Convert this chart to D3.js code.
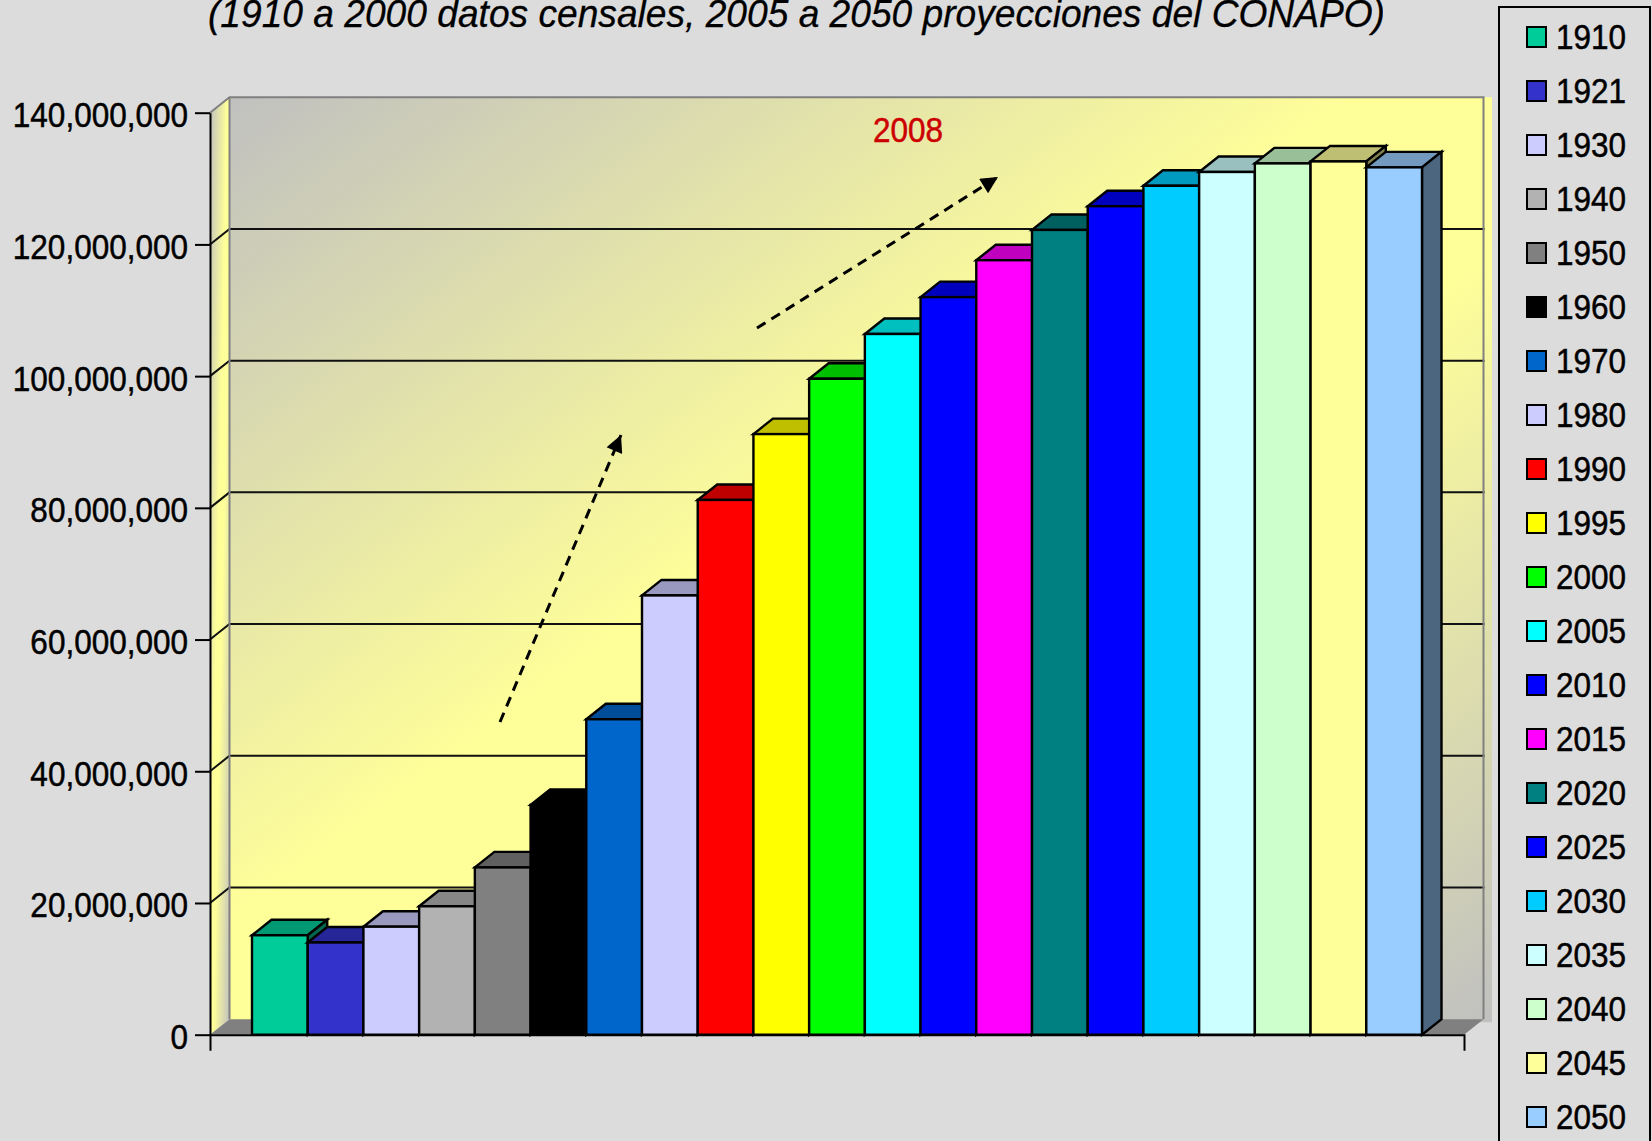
<!DOCTYPE html>
<head>
  <meta charset="utf-8">
  <style>
    body { margin: 0; background: #dcdcdc; }
    svg { display: block; }
    text { font-family: 'Liberation Sans', Arial, sans-serif; fill: black; stroke: black; stroke-width: 0.5; }
    .axis path, .axis line { stroke: black; stroke-width: 2; fill: none; }
    .axis text { font-size: 35px; fill: black; stroke: black; stroke-width: 0.5; }
    .edge { stroke: black; stroke-width: 2.4; stroke-linejoin: miter; }
  </style>
</head>

<body>
  <script src="https://cdn.jsdelivr.net/npm/d3@7"></script>
  <script>
    // chart data
    const years = ["1910", "1921", "1930", "1940", "1950", "1960", "1970", "1980", "1990", "1995", "2000",
      "2005", "2010", "2015", "2020", "2025", "2030", "2035", "2040", "2045", "2050"];
    const population = [15100000, 14000000, 16400000, 19500000, 25400000, 34900000, 47900000, 66700000,
      81200000, 91200000, 99600000, 106400000, 112000000, 117600000, 122200000, 125800000,
      128900000, 131000000, 132300000, 132600000, 131700000];
    const barColors = ["#00cc99", "#3333cc", "#ccccff", "#b2b2b2", "#808080", "#000000", "#0066cc", "#ccccff",
      "#ff0000", "#ffff00", "#00ff00", "#00ffff", "#0000ff", "#ff00ff", "#008080", "#0000ff",
      "#00ccff", "#ccffff", "#ccffcc", "#ffff99", "#99ccff"];
    const yTicks = [0, 20000000, 40000000, 60000000, 80000000, 100000000, 120000000, 140000000];
    const titleText = "(1910 a 2000 datos censales, 2005 a 2050 proyecciones del CONAPO)";
    const noteText = "2008";

    const width = 1652;
    const height = 1141;
    // 3d offset of the walls and the bar tops
    const depthX = 19.5;
    const depthY = 15.5;
    const narrow = 0.9; // the text in the picture is squeezed sideways

    const svg = d3.select("body").append("svg")
      .attr("width", width)
      .attr("height", height);

    const x = d3.scaleBand().domain(years).range([252, 1422]);
    const y = d3.scaleLinear().domain([0, 140000000]).range([1034.7, 112.7]);
    const floorRight = 1464;
    const axisLeftX = 210;

    const data = years.map((d, i) => ({year: d, value: population[i], color: barColors[i]}));

    const poly = pts => pts.map(p => p.join(",")).join(" ");
    const shade = (c, k) => { const r = d3.rgb(c); return d3.rgb(r.r * k, r.g * k, r.b * k); };
    function squeeze(sel) {
      sel.each(function() {
        d3.select(this)
          .attr("textLength", this.getComputedTextLength() * narrow)
          .attr("lengthAdjust", "spacingAndGlyphs");
      });
    }

    // wall gradient, grey in two corners, yellow across the middle
    const defs = svg.append("defs");
    const grad = defs.append("linearGradient")
      .attr("id", "wall")
      .attr("x1", 0).attr("y1", 0).attr("x2", 1).attr("y2", 1);
    grad.append("stop").attr("offset", "0%").attr("stop-color", "#c0c0c0");
    grad.append("stop").attr("offset", "45%").attr("stop-color", "#ffff99");
    grad.append("stop").attr("offset", "58%").attr("stop-color", "#ffff99");
    grad.append("stop").attr("offset", "100%").attr("stop-color", "#c0c0c0");

    defs.append("marker")
      .attr("id", "arrow")
      .attr("viewBox", "0 0 10 10")
      .attr("refX", 10).attr("refY", 5)
      .attr("markerUnits", "userSpaceOnUse")
      .attr("markerWidth", 20).attr("markerHeight", 17)
      .attr("orient", "auto")
      .append("path").attr("d", "M0,0L10,5L0,10Z").attr("fill", "black");

    // the closing bracket of the title is cut in the picture
    defs.append("clipPath").attr("id", "titleClip")
      .append("rect").attr("x", 0).attr("y", 0).attr("width", 1383).attr("height", 60);

    const yTop = y(140000000);
    const yBase = y(0);

    //-----------------------------WALLS-----------------------------//
    const walls = svg.append("g").attr("id", "walls");
    walls.append("rect")
      .attr("x", axisLeftX + depthX)
      .attr("y", yTop - depthY)
      .attr("width", 1492 - axisLeftX - depthX)
      .attr("height", yBase - yTop + 3)
      .attr("fill", "url(#wall)");
    walls.append("polygon")
      .attr("points", poly([[axisLeftX, yTop], [axisLeftX + depthX, yTop - depthY],
        [axisLeftX + depthX, yBase - depthY], [axisLeftX, yBase]]))
      .attr("fill", "url(#wall)");
    walls.append("polygon")
      .attr("points", poly([[axisLeftX, yBase], [axisLeftX + depthX, yBase - depthY],
        [floorRight + depthX, yBase - depthY], [floorRight, yBase]]))
      .attr("fill", "#808080");

    // grid lines, slanted part on the side wall and flat part on the back wall
    walls.selectAll(".grid").data(yTicks.slice(1, -1)).enter().append("polyline")
      .attr("class", "grid")
      .attr("points", d => poly([[axisLeftX, y(d)], [axisLeftX + depthX, y(d) - depthY],
        [floorRight + depthX + 1, y(d) - depthY]]))
      .attr("fill", "none")
      .attr("stroke", "#111")
      .attr("stroke-width", 2);

    walls.append("polyline")
      .attr("points", poly([[axisLeftX, yTop], [axisLeftX + depthX, yTop - depthY],
        [floorRight + depthX, yTop - depthY], [floorRight + depthX, yBase - depthY]]))
      .attr("fill", "none")
      .attr("stroke", "#808080")
      .attr("stroke-width", 2);
    walls.append("line")
      .attr("x1", axisLeftX + depthX).attr("x2", axisLeftX + depthX)
      .attr("y1", yTop - depthY).attr("y2", yBase - depthY)
      .attr("stroke", "#808080").attr("stroke-width", 2);

    //-----------------------------BARS-----------------------------//
    const bw = x.bandwidth();
    // painted left to right, each bar's top lands over the side of the bar before it
    const bars = svg.append("g").attr("id", "bars")
      .selectAll(".bar").data(data).enter().append("g").attr("class", "bar");
    bars.append("polygon")
      .attr("class", "edge")
      .attr("points", d => poly([[x(d.year), y(d.value)], [x(d.year) + depthX, y(d.value) - depthY],
        [x(d.year) + bw + depthX, y(d.value) - depthY], [x(d.year) + bw, y(d.value)]]))
      .attr("fill", d => shade(d.color, 0.75));
    bars.append("polygon")
      .attr("class", "edge")
      .attr("points", d => poly([[x(d.year) + bw, y(d.value)], [x(d.year) + bw + depthX, y(d.value) - depthY],
        [x(d.year) + bw + depthX, yBase - depthY], [x(d.year) + bw, yBase]]))
      .attr("fill", d => shade(d.color, 0.5));
    bars.append("rect")
      .attr("class", "edge")
      .attr("x", d => x(d.year))
      .attr("y", d => y(d.value))
      .attr("width", bw)
      .attr("height", d => yBase - y(d.value))
      .attr("fill", d => d.color);

    //-----------------------------AXES-----------------------------//
    const yAxis = d3.axisLeft(y)
      .tickValues(yTicks)
      .tickFormat(d3.format(","))
      .tickSize(15)
      .tickPadding(7)
      .tickSizeOuter(0);
    svg.append("g")
      .attr("class", "axis")
      .attr("transform", "translate(" + axisLeftX + ",0)")
      .call(yAxis)
      .selectAll("text")
      .attr("dy", "0.4em")
      .call(squeeze);

    const xEnds = d3.scaleLinear().domain([0, 1]).range([axisLeftX, floorRight]);
    svg.append("g")
      .attr("class", "axis")
      .attr("transform", "translate(0," + yBase + ")")
      .call(d3.axisBottom(xEnds).tickValues([]).tickSizeOuter(16));

    //-----------------------------NOTES-----------------------------//
    svg.append("text")
      .attr("x", 208)
      .attr("y", 27)
      .attr("font-size", 38)
      .attr("font-style", "italic")
      .attr("textLength", 1177)
      .attr("lengthAdjust", "spacingAndGlyphs")
      .attr("clip-path", "url(#titleClip)")
      .style("stroke-width", 0.3)
      .text(titleText);

    svg.append("text")
      .attr("x", 908)
      .attr("y", 142)
      .attr("text-anchor", "middle")
      .attr("font-size", 35)
      .style("fill", "#cc0000")
      .style("stroke", "#cc0000")
      .text(noteText)
      .call(squeeze);

    svg.append("line")
      .attr("x1", 500).attr("y1", 722).attr("x2", 621).attr("y2", 435)
      .attr("stroke", "black").attr("stroke-width", 3).attr("stroke-dasharray", "10,7")
      .attr("marker-end", "url(#arrow)");
    svg.append("line")
      .attr("x1", 757).attr("y1", 328).attr("x2", 998).attr("y2", 177)
      .attr("stroke", "black").attr("stroke-width", 3).attr("stroke-dasharray", "10,7")
      .attr("marker-end", "url(#arrow)");

    //-----------------------------LEGEND-----------------------------//
    const legendY = d3.scalePoint().domain(years).range([37, 1117]);
    const legend = svg.append("g").attr("id", "legend");
    legend.append("rect")
      .attr("x", 1499).attr("y", 7)
      .attr("width", 151).attr("height", 1160)
      .attr("fill", "none")
      .attr("stroke", "black")
      .attr("stroke-width", 2);
    const items = legend.selectAll(".item").data(data).enter().append("g").attr("class", "item");
    items.append("rect")
      .attr("x", 1527)
      .attr("y", d => legendY(d.year) - 10)
      .attr("width", 19)
      .attr("height", 20)
      .attr("fill", d => d.color)
      .attr("stroke", "black")
      .attr("stroke-width", 2);
    items.append("text")
      .attr("x", 1626)
      .attr("y", d => legendY(d.year) + 12)
      .attr("text-anchor", "end")
      .attr("font-size", 35)
      .text(d => d.year)
      .call(squeeze);
  </script>
</body>
